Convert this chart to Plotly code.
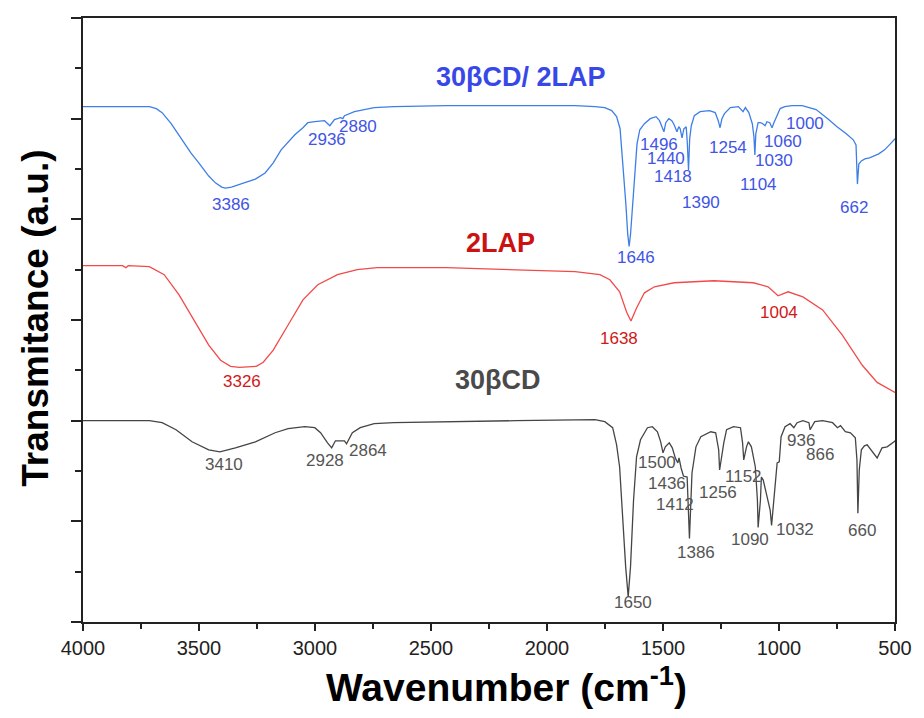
import plotly.graph_objects as go

# ---------------- data ----------------
# 30βCD/2LAP (blue, top)
blue_wn = [4000, 3714, 3684, 3659, 3620, 3573, 3535, 3501, 3458, 3428, 3402, 3386, 3360, 3309,
           3257, 3215, 3180, 3146, 3116, 3087, 3052, 3031, 3001, 2959, 2936, 2916, 2890, 2880,
           2873, 2830, 2745, 2660, 2434, 2135, 1879, 1793, 1751, 1721, 1700, 1685, 1672, 1660,
           1652, 1646, 1640, 1632, 1622, 1612, 1600, 1580, 1555, 1530, 1515, 1505, 1496, 1488,
           1475, 1462, 1452, 1440, 1432, 1426, 1418, 1410, 1400, 1395, 1390, 1385, 1378, 1365,
           1340, 1300, 1275, 1262, 1254, 1246, 1235, 1210, 1175, 1155, 1145, 1130, 1115, 1108,
           1104, 1100, 1090, 1080, 1070, 1060, 1052, 1040, 1030, 1022, 1010, 995, 975, 945, 900,
           840, 790, 750, 710, 680, 668, 662, 656, 645, 630, 610, 570, 545, 520, 500]
blue_t = [5.12, 5.12, 5.10, 5.06, 4.95, 4.79, 4.66, 4.56, 4.43, 4.36, 4.32, 4.31, 4.32, 4.36,
          4.40, 4.46, 4.56, 4.69, 4.77, 4.84, 4.91, 4.96, 4.97, 4.98, 4.93, 4.99, 5.01, 5.00,
          5.03, 5.07, 5.11, 5.12, 5.13, 5.13, 5.13, 5.12, 5.11, 5.08, 5.02, 4.90, 4.55, 4.15,
          3.85, 3.73, 3.85, 4.10, 4.45, 4.75, 4.89, 4.95, 5.00, 5.02, 4.98, 4.92, 4.87, 4.96,
          5.00, 4.98, 4.94, 4.87, 4.92, 4.90, 4.81, 4.90, 4.92, 4.75, 4.49, 4.80, 4.93, 5.03,
          5.07, 5.08, 5.06, 4.98, 4.91, 5.00, 5.05, 5.11, 5.12, 5.07, 5.11, 5.06, 4.95, 4.82,
          4.64, 4.85, 4.96, 4.96, 4.95, 4.93, 4.97, 4.96, 4.91, 4.96, 5.02, 5.10, 5.12, 5.13, 5.13,
          5.09, 5.00, 4.92, 4.85, 4.79, 4.74, 4.35, 4.55, 4.58, 4.60, 4.61, 4.65, 4.69, 4.75, 4.80]

# 2LAP (red, middle)
red_wn = [4000, 3830, 3815, 3805, 3714, 3650, 3586, 3522, 3458, 3407, 3364, 3326, 3253, 3223,
          3180, 3116, 3052, 2988, 2903, 2818, 2732, 2434, 2135, 1879, 1772, 1729, 1687, 1657,
          1638, 1614, 1580, 1537, 1452, 1281, 1111, 1047, 1004, 961, 897, 812, 727, 641, 577, 500]
red_t = [3.54, 3.54, 3.52, 3.54, 3.53, 3.45, 3.25, 3.00, 2.75, 2.60, 2.54, 2.53, 2.54, 2.58,
         2.70, 2.95, 3.20, 3.35, 3.45, 3.50, 3.52, 3.52, 3.50, 3.48, 3.45, 3.40, 3.28, 3.08,
         2.99, 3.12, 3.27, 3.33, 3.37, 3.39, 3.37, 3.33, 3.24, 3.28, 3.23, 3.10, 2.85, 2.55,
         2.38, 2.28]

# 30βCD (black, bottom)
black_wn = [4000, 3714, 3659, 3599, 3530, 3458, 3410, 3343, 3257, 3172, 3116, 3044, 3001, 2976,
            2946, 2928, 2912, 2873, 2864, 2839, 2805, 2745, 2660, 2434, 2135, 1793, 1751, 1717,
            1700, 1687, 1674, 1661, 1650, 1640, 1627, 1614, 1597, 1567, 1546, 1524, 1510, 1500,
            1490, 1473, 1460, 1447, 1436, 1431, 1422, 1412, 1396, 1386, 1375, 1358, 1337, 1294,
            1273, 1260, 1256, 1238, 1226, 1196, 1166, 1157, 1152, 1140, 1132, 1119, 1102, 1093,
            1090, 1080, 1076, 1068, 1055, 1038, 1032, 1020, 1008, 999, 991, 974, 952, 936, 922,
            897, 871, 866, 846, 812, 769, 748, 735, 714, 692, 671, 664, 660, 654, 645, 632, 620,
            598, 577, 556, 534, 504, 500]
black_t = [2.00, 2.00, 1.98, 1.91, 1.79, 1.71, 1.69, 1.73, 1.79, 1.88, 1.92, 1.94, 1.93, 1.88,
           1.78, 1.73, 1.80, 1.80, 1.77, 1.88, 1.93, 1.97, 1.98, 1.99, 2.00, 2.01, 1.99, 1.93,
           1.76, 1.54, 1.04, 0.55, 0.25, 0.55, 1.21, 1.64, 1.81, 1.93, 1.94, 1.89, 1.79, 1.68,
           1.74, 1.78, 1.73, 1.63, 1.58, 1.63, 1.53, 1.45, 1.44, 0.83, 1.48, 1.74, 1.84, 1.89,
           1.88, 1.71, 1.51, 1.78, 1.91, 1.94, 1.93, 1.78, 1.61, 1.74, 1.79, 1.74, 1.54, 1.21,
           0.94, 1.21, 1.44, 1.41, 1.28, 1.11, 0.96, 1.31, 1.58, 1.59, 1.84, 1.94, 1.97, 1.93, 1.98,
           2.00, 1.98, 1.91, 1.99, 2.00, 1.98, 1.93, 1.95, 1.89, 1.88, 1.83, 1.61, 1.08, 1.51,
           1.71, 1.75, 1.76, 1.69, 1.63, 1.73, 1.74, 1.79, 1.80]

series_names = ["30βCD/ 2LAP", "2LAP", "30βCD"]

# peak labels: (text, x position, y position) per series
blue_labels = [("3386", 3360, 4.15), ("2936", 2950, 4.79), ("2880", 2813, 4.92),
               ("1646", 1618, 3.62), ("1496", 1516, 4.74), ("1440", 1486, 4.60),
               ("1418", 1456, 4.43), ("1390", 1337, 4.17), ("1254", 1221, 4.71),
               ("1104", 1089, 4.35), ("1060", 982, 4.77), ("1030", 1021, 4.58),
               ("1000", 888, 4.95), ("662", 675, 4.12)]
red_labels = [("3326", 3313, 2.39), ("1638", 1691, 2.82), ("1004", 999, 3.07)]
black_labels = [("3410", 3394, 1.56), ("2928", 2959, 1.60), ("2864", 2771, 1.70),
                ("1650", 1631, 0.19), ("1500", 1524, 1.58), ("1436", 1482, 1.38),
                ("1412", 1448, 1.17), ("1386", 1358, 0.69), ("1256", 1264, 1.29),
                ("1152", 1153, 1.45), ("1090", 1123, 0.82), ("1032", 931, 0.92),
                ("936", 906, 1.80), ("866", 824, 1.66), ("660", 641, 0.91)]
series_label_pos = [(2113, 5.41), (2199, 3.76), (2212, 2.40)]

x_ticks = [4000, 3500, 3000, 2500, 2000, 1500, 1000, 500]

# ---------------- styling ----------------
FONT = "Arial, Liberation Sans, sans-serif"
line_colors = ["#3d7fe6", "#f24a4a", "#454545"]
label_colors = ["#3f55e6", "#d01818", "#555555"]
title_colors = ["#3848e8", "#cc1111", "#4a4a4a"]

fig = go.Figure()
for wn, t, c, n in [(blue_wn, blue_t, line_colors[0], series_names[0]),
                    (red_wn, red_t, line_colors[1], series_names[1]),
                    (black_wn, black_t, line_colors[2], series_names[2])]:
    fig.add_trace(go.Scatter(x=wn, y=t, mode="lines", name=n,
                             line=dict(color=c, width=1.3), showlegend=False))

annotations = []
for labels, col in [(blue_labels, label_colors[0]), (red_labels, label_colors[1]),
                    (black_labels, label_colors[2])]:
    for txt, xv, yv in labels:
        annotations.append(dict(x=xv, y=yv, xref="x", yref="y", text=txt, showarrow=False,
                                xanchor="center", yanchor="middle",
                                font=dict(family=FONT, size=17, color=col)))
for (xv, yv), n, col in zip(series_label_pos, series_names, title_colors):
    annotations.append(dict(x=xv, y=yv, xref="x", yref="y", text="<b>%s</b>" % n,
                            showarrow=False, xanchor="center", yanchor="middle",
                            font=dict(family=FONT, size=27, color=col)))

# axis titles
annotations.append(dict(x=0.522, y=-0.148, xref="paper", yref="paper",
                        xanchor="center", yanchor="bottom",
                        text="<b>Wavenumber (cm<sup>-1</sup>)</b>", showarrow=False,
                        font=dict(family=FONT, size=39, color="#000000")))
annotations.append(dict(x=-0.0585, y=0.503, xref="paper", yref="paper",
                        xanchor="center", yanchor="middle",
                        text="<b>Transmitance (a.u.)</b>", showarrow=False, textangle=-90,
                        font=dict(family=FONT, size=37, color="#000000")))

fig.update_layout(
    width=924, height=718,
    margin=dict(l=83, r=21, t=18, b=96),
    paper_bgcolor="white", plot_bgcolor="white",
    annotations=annotations,
    font=dict(family=FONT),
)
fig.update_xaxes(range=[4000, 500], tickvals=x_ticks, ticks="outside", ticklen=7, tickwidth=1.5,
                 tickcolor="#222", showline=True, linecolor="#222", linewidth=2, mirror=True,
                 showgrid=False, zeroline=False,
                 tickfont=dict(family=FONT, size=20, color="#222"),
                 minor=dict(tickvals=[3750, 3250, 2750, 2250, 1750, 1250, 750], ticks="outside",
                            ticklen=5, tickwidth=1.5, tickcolor="#222"))
fig.update_yaxes(range=[0, 6], dtick=1, ticks="outside", ticklen=10, tickwidth=1.5,
                 tickcolor="#222", showline=True, linecolor="#222", linewidth=2, mirror=True,
                 showgrid=False, zeroline=False, showticklabels=False,
                 minor=dict(dtick=0.5, ticks="outside", ticklen=6, tickwidth=1.5, tickcolor="#222"))

fig.write_html("out.html")
